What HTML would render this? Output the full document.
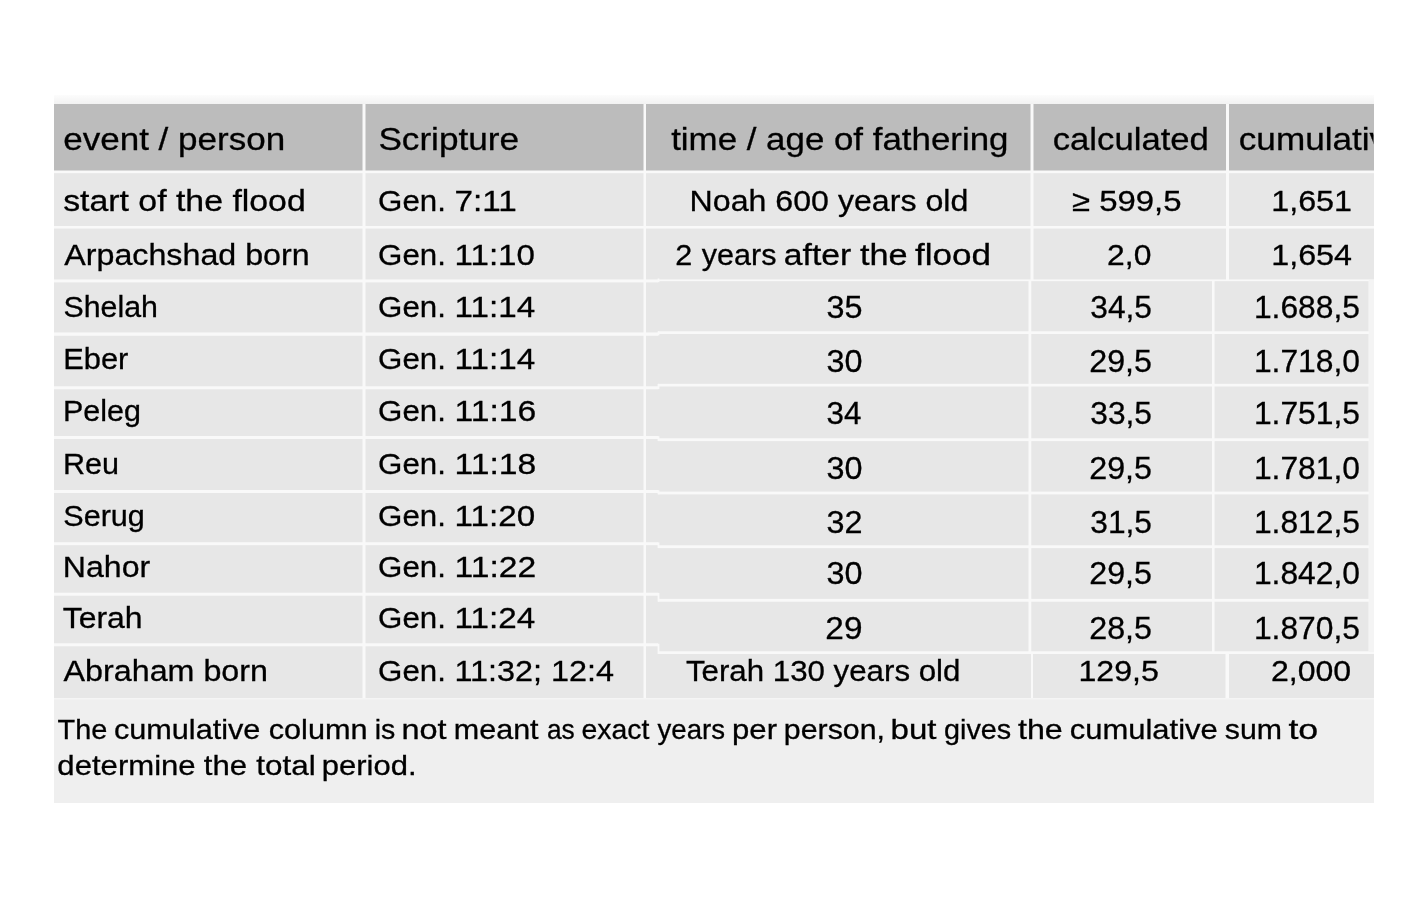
<!DOCTYPE html>
<html><head><meta charset="utf-8"><title>Table</title>
<style>
html,body{margin:0;padding:0;background:#fff;width:1428px;height:924px;overflow:hidden}
svg{display:block}
.main{filter:blur(0.4px)}
text{font-family:"Liberation Sans",sans-serif;font-size:29.5px;fill:#000000;stroke:#000000;stroke-width:0.3px}
</style></head><body>
<svg class="main" width="1428" height="924" viewBox="0 0 1428 924">
<rect x="0" y="0" width="1428" height="924" fill="#ffffff"/>
<defs><linearGradient id="sg" x1="0" y1="0" x2="0" y2="1"><stop offset="0" stop-color="#fcfcfc"/><stop offset="1" stop-color="#f2f2f2"/></linearGradient></defs>
<rect x="54.0" y="95.0" width="1320.0" height="9.0" fill="url(#sg)"/>
<rect x="54.0" y="104.0" width="1320.0" height="594.0" fill="#f9f9f9"/>
<rect x="54.0" y="104.0" width="308.5" height="66.5" fill="#bcbcbc"/>
<rect x="365.5" y="104.0" width="278.0" height="66.5" fill="#bcbcbc"/>
<rect x="646.0" y="104.0" width="384.5" height="66.5" fill="#bcbcbc"/>
<rect x="1033.5" y="104.0" width="192.5" height="66.5" fill="#bcbcbc"/>
<rect x="1229.0" y="104.0" width="145.0" height="66.5" fill="#bcbcbc"/>
<rect x="54.0" y="173.2" width="308.5" height="52.8" fill="#e7e7e7"/>
<rect x="365.5" y="173.2" width="278.0" height="52.8" fill="#e7e7e7"/>
<rect x="646.0" y="173.2" width="384.5" height="52.8" fill="#e7e7e7"/>
<rect x="1033.5" y="173.2" width="192.5" height="52.8" fill="#e7e7e7"/>
<rect x="1229.0" y="173.2" width="145.0" height="52.8" fill="#e7e7e7"/>
<rect x="54.0" y="228.6" width="308.5" height="50.8" fill="#e7e7e7"/>
<rect x="365.5" y="228.6" width="278.0" height="50.8" fill="#e7e7e7"/>
<rect x="646.0" y="228.6" width="384.5" height="50.8" fill="#e7e7e7"/>
<rect x="1033.5" y="228.6" width="192.5" height="50.8" fill="#e7e7e7"/>
<rect x="1229.0" y="228.6" width="145.0" height="50.8" fill="#e7e7e7"/>
<rect x="54.0" y="282.4" width="308.5" height="50.0" fill="#e7e7e7"/>
<rect x="365.5" y="282.4" width="278.0" height="50.0" fill="#e7e7e7"/>
<rect x="646.0" y="282.4" width="12.0" height="50.0" fill="#e7e7e7"/>
<rect x="54.0" y="335.8" width="308.5" height="50.5" fill="#e7e7e7"/>
<rect x="365.5" y="335.8" width="278.0" height="50.5" fill="#e7e7e7"/>
<rect x="646.0" y="335.8" width="12.0" height="50.5" fill="#e7e7e7"/>
<rect x="54.0" y="389.3" width="308.5" height="46.7" fill="#e7e7e7"/>
<rect x="365.5" y="389.3" width="278.0" height="46.7" fill="#e7e7e7"/>
<rect x="646.0" y="389.3" width="12.0" height="46.7" fill="#e7e7e7"/>
<rect x="54.0" y="439.0" width="308.5" height="51.0" fill="#e7e7e7"/>
<rect x="365.5" y="439.0" width="278.0" height="51.0" fill="#e7e7e7"/>
<rect x="646.0" y="439.0" width="12.0" height="51.0" fill="#e7e7e7"/>
<rect x="54.0" y="493.0" width="308.5" height="49.2" fill="#e7e7e7"/>
<rect x="365.5" y="493.0" width="278.0" height="49.2" fill="#e7e7e7"/>
<rect x="646.0" y="493.0" width="12.0" height="49.2" fill="#e7e7e7"/>
<rect x="54.0" y="545.2" width="308.5" height="47.5" fill="#e7e7e7"/>
<rect x="365.5" y="545.2" width="278.0" height="47.5" fill="#e7e7e7"/>
<rect x="646.0" y="545.2" width="12.0" height="47.5" fill="#e7e7e7"/>
<rect x="54.0" y="595.7" width="308.5" height="47.6" fill="#e7e7e7"/>
<rect x="365.5" y="595.7" width="278.0" height="47.6" fill="#e7e7e7"/>
<rect x="646.0" y="595.7" width="12.0" height="47.6" fill="#e7e7e7"/>
<rect x="54.0" y="646.3" width="308.5" height="51.7" fill="#e7e7e7"/>
<rect x="365.5" y="646.3" width="278.0" height="51.7" fill="#e7e7e7"/>
<rect x="646.0" y="646.3" width="12.0" height="51.7" fill="#e7e7e7"/>
<rect x="658.0" y="281.2" width="370.5" height="50.1" fill="#e7e7e7"/>
<rect x="1031.3" y="281.2" width="180.7" height="50.1" fill="#e7e7e7"/>
<rect x="1214.6" y="281.2" width="154.1" height="50.1" fill="#e7e7e7"/>
<rect x="658.0" y="334.0" width="370.5" height="49.8" fill="#e7e7e7"/>
<rect x="1031.3" y="334.0" width="180.7" height="49.8" fill="#e7e7e7"/>
<rect x="1214.6" y="334.0" width="154.1" height="49.8" fill="#e7e7e7"/>
<rect x="658.0" y="386.5" width="370.5" height="51.8" fill="#e7e7e7"/>
<rect x="1031.3" y="386.5" width="180.7" height="51.8" fill="#e7e7e7"/>
<rect x="1214.6" y="386.5" width="154.1" height="51.8" fill="#e7e7e7"/>
<rect x="658.0" y="441.1" width="370.5" height="50.5" fill="#e7e7e7"/>
<rect x="1031.3" y="441.1" width="180.7" height="50.5" fill="#e7e7e7"/>
<rect x="1214.6" y="441.1" width="154.1" height="50.5" fill="#e7e7e7"/>
<rect x="658.0" y="494.4" width="370.5" height="50.9" fill="#e7e7e7"/>
<rect x="1031.3" y="494.4" width="180.7" height="50.9" fill="#e7e7e7"/>
<rect x="1214.6" y="494.4" width="154.1" height="50.9" fill="#e7e7e7"/>
<rect x="658.0" y="548.1" width="370.5" height="50.8" fill="#e7e7e7"/>
<rect x="1031.3" y="548.1" width="180.7" height="50.8" fill="#e7e7e7"/>
<rect x="1214.6" y="548.1" width="154.1" height="50.8" fill="#e7e7e7"/>
<rect x="658.0" y="601.7" width="370.5" height="49.6" fill="#e7e7e7"/>
<rect x="1031.3" y="601.7" width="180.7" height="49.6" fill="#e7e7e7"/>
<rect x="1214.6" y="601.7" width="154.1" height="49.6" fill="#e7e7e7"/>
<rect x="658.0" y="654.0" width="373.0" height="44.0" fill="#e7e7e7"/>
<rect x="1033.0" y="654.0" width="192.5" height="44.0" fill="#e7e7e7"/>
<rect x="1229.0" y="654.0" width="145.0" height="44.0" fill="#e7e7e7"/>
<rect x="1368.7" y="280.0" width="5.3" height="372.0" fill="#f4f4f4"/>
<rect x="54.0" y="698.0" width="1320.0" height="105.0" fill="#efefef"/>
<rect x="54.0" y="698.0" width="1320.0" height="1.5" fill="#f5f5f5"/>
<rect x="657.6" y="278.5" width="1.8" height="3.7" fill="#f9f9f9"/>
<rect x="657.6" y="331.4" width="1.8" height="4.0" fill="#f9f9f9"/>
<rect x="657.6" y="383.9" width="1.8" height="5.2" fill="#f9f9f9"/>
<rect x="657.6" y="436.2" width="1.8" height="4.8" fill="#f9f9f9"/>
<rect x="657.6" y="490.2" width="1.8" height="4.1" fill="#f9f9f9"/>
<rect x="657.6" y="542.4" width="1.8" height="5.6" fill="#f9f9f9"/>
<rect x="657.6" y="592.9" width="1.8" height="8.7" fill="#f9f9f9"/>
<rect x="657.6" y="643.7" width="1.8" height="10.3" fill="#f9f9f9"/>
<text x="63.21" y="149.90" style="font-size:32px" textLength="221.96" lengthAdjust="spacingAndGlyphs">event / person</text>
<text x="378.40" y="149.90" style="font-size:32px" textLength="140.65" lengthAdjust="spacingAndGlyphs">Scripture</text>
<text x="671.20" y="149.90" style="font-size:32px" textLength="337.25" lengthAdjust="spacingAndGlyphs">time / age of fathering</text>
<text x="1052.72" y="149.90" style="font-size:32px" textLength="156.15" lengthAdjust="spacingAndGlyphs">calculated</text>
<svg x="0" y="0" width="1373.5" height="924" overflow="hidden"><text x="1238.80" y="149.90" style="font-size:32px" transform="translate(1238.80 0) scale(1.0983 1) translate(-1238.80 0)">cumulative</text></svg>
<text x="63.15" y="210.50" style="font-size:29.5px" textLength="242.62" lengthAdjust="spacingAndGlyphs">start of the flood</text>
<text x="378.14" y="210.50" style="font-size:29.5px" textLength="67.81" lengthAdjust="spacingAndGlyphs">Gen.</text>
<text x="454.57" y="210.50" style="font-size:29.5px" textLength="62.32" lengthAdjust="spacingAndGlyphs">7:11</text>
<text x="689.62" y="210.50" style="font-size:29.5px" textLength="278.69" lengthAdjust="spacingAndGlyphs">Noah 600 years old</text>
<text x="1072.09" y="210.50" style="font-size:29.5px" textLength="109.47" lengthAdjust="spacingAndGlyphs">≥ 599,5</text>
<text x="1271.31" y="210.50" style="font-size:29.5px" textLength="80.69" lengthAdjust="spacingAndGlyphs">1,651</text>
<text x="64.30" y="264.50" style="font-size:29.5px" textLength="245.34" lengthAdjust="spacingAndGlyphs">Arpachshad born</text>
<text x="378.14" y="264.50" style="font-size:29.5px" textLength="67.81" lengthAdjust="spacingAndGlyphs">Gen.</text>
<text x="454.56" y="264.50" style="font-size:29.5px" textLength="80.36" lengthAdjust="spacingAndGlyphs">11:10</text>
<text x="675.16" y="264.50" style="font-size:29.5px" textLength="17.01" lengthAdjust="spacingAndGlyphs">2</text>
<text x="701.80" y="264.50" style="font-size:29.5px" textLength="74.68" lengthAdjust="spacingAndGlyphs">years</text>
<text x="783.86" y="264.50" style="font-size:29.5px" textLength="67.48" lengthAdjust="spacingAndGlyphs">after</text>
<text x="859.90" y="264.50" style="font-size:29.5px" textLength="47.68" lengthAdjust="spacingAndGlyphs">the</text>
<text x="915.00" y="264.50" style="font-size:29.5px" textLength="76.06" lengthAdjust="spacingAndGlyphs">flood</text>
<text x="1107.12" y="264.50" style="font-size:29.5px" textLength="44.28" lengthAdjust="spacingAndGlyphs">2,0</text>
<text x="1271.31" y="264.50" style="font-size:29.5px" textLength="80.69" lengthAdjust="spacingAndGlyphs">1,654</text>
<text x="63.47" y="316.70" style="font-size:29.5px" textLength="94.44" lengthAdjust="spacingAndGlyphs">Shelah</text>
<text x="378.14" y="316.70" style="font-size:29.5px" textLength="67.81" lengthAdjust="spacingAndGlyphs">Gen.</text>
<text x="454.55" y="316.70" style="font-size:29.5px" textLength="80.57" lengthAdjust="spacingAndGlyphs">11:14</text>
<text x="63.21" y="369.10" style="font-size:29.5px" textLength="65.13" lengthAdjust="spacingAndGlyphs">Eber</text>
<text x="378.14" y="369.10" style="font-size:29.5px" textLength="67.81" lengthAdjust="spacingAndGlyphs">Gen.</text>
<text x="454.55" y="369.10" style="font-size:29.5px" textLength="80.57" lengthAdjust="spacingAndGlyphs">11:14</text>
<text x="62.93" y="420.50" style="font-size:29.5px" textLength="77.97" lengthAdjust="spacingAndGlyphs">Peleg</text>
<text x="378.14" y="420.50" style="font-size:29.5px" textLength="67.81" lengthAdjust="spacingAndGlyphs">Gen.</text>
<text x="454.52" y="420.50" style="font-size:29.5px" textLength="81.75" lengthAdjust="spacingAndGlyphs">11:16</text>
<text x="62.93" y="473.50" style="font-size:29.5px" textLength="56.07" lengthAdjust="spacingAndGlyphs">Reu</text>
<text x="378.14" y="473.50" style="font-size:29.5px" textLength="67.81" lengthAdjust="spacingAndGlyphs">Gen.</text>
<text x="454.52" y="473.50" style="font-size:29.5px" textLength="81.75" lengthAdjust="spacingAndGlyphs">11:18</text>
<text x="63.26" y="525.50" style="font-size:29.5px" textLength="81.64" lengthAdjust="spacingAndGlyphs">Serug</text>
<text x="378.14" y="525.50" style="font-size:29.5px" textLength="67.81" lengthAdjust="spacingAndGlyphs">Gen.</text>
<text x="454.55" y="525.50" style="font-size:29.5px" textLength="80.57" lengthAdjust="spacingAndGlyphs">11:20</text>
<text x="62.83" y="576.60" style="font-size:29.5px" textLength="87.37" lengthAdjust="spacingAndGlyphs">Nahor</text>
<text x="378.14" y="576.60" style="font-size:29.5px" textLength="67.81" lengthAdjust="spacingAndGlyphs">Gen.</text>
<text x="454.52" y="576.60" style="font-size:29.5px" textLength="81.75" lengthAdjust="spacingAndGlyphs">11:22</text>
<text x="62.72" y="627.70" style="font-size:29.5px" textLength="79.83" lengthAdjust="spacingAndGlyphs">Terah</text>
<text x="378.14" y="627.70" style="font-size:29.5px" textLength="67.81" lengthAdjust="spacingAndGlyphs">Gen.</text>
<text x="454.55" y="627.70" style="font-size:29.5px" textLength="80.57" lengthAdjust="spacingAndGlyphs">11:24</text>
<text x="826.46" y="318.40" style="font-size:31px" textLength="35.99" lengthAdjust="spacingAndGlyphs">35</text>
<text x="1090.28" y="318.40" style="font-size:31px" textLength="61.70" lengthAdjust="spacingAndGlyphs">34,5</text>
<text x="1253.95" y="318.40" style="font-size:31px" textLength="106.02" lengthAdjust="spacingAndGlyphs">1.688,5</text>
<text x="826.46" y="372.40" style="font-size:31px" textLength="35.99" lengthAdjust="spacingAndGlyphs">30</text>
<text x="1089.22" y="372.40" style="font-size:31px" textLength="62.78" lengthAdjust="spacingAndGlyphs">29,5</text>
<text x="1253.95" y="372.40" style="font-size:31px" textLength="106.02" lengthAdjust="spacingAndGlyphs">1.718,0</text>
<text x="826.49" y="424.30" style="font-size:31px" textLength="34.90" lengthAdjust="spacingAndGlyphs">34</text>
<text x="1090.28" y="424.30" style="font-size:31px" textLength="61.70" lengthAdjust="spacingAndGlyphs">33,5</text>
<text x="1253.95" y="424.30" style="font-size:31px" textLength="106.02" lengthAdjust="spacingAndGlyphs">1.751,5</text>
<text x="826.46" y="478.60" style="font-size:31px" textLength="35.99" lengthAdjust="spacingAndGlyphs">30</text>
<text x="1089.22" y="478.60" style="font-size:31px" textLength="62.78" lengthAdjust="spacingAndGlyphs">29,5</text>
<text x="1253.95" y="478.60" style="font-size:31px" textLength="106.02" lengthAdjust="spacingAndGlyphs">1.781,0</text>
<text x="826.46" y="532.50" style="font-size:31px" textLength="35.99" lengthAdjust="spacingAndGlyphs">32</text>
<text x="1090.28" y="532.50" style="font-size:31px" textLength="61.70" lengthAdjust="spacingAndGlyphs">31,5</text>
<text x="1253.95" y="532.50" style="font-size:31px" textLength="106.02" lengthAdjust="spacingAndGlyphs">1.812,5</text>
<text x="826.46" y="584.20" style="font-size:31px" textLength="35.99" lengthAdjust="spacingAndGlyphs">30</text>
<text x="1089.22" y="584.20" style="font-size:31px" textLength="62.78" lengthAdjust="spacingAndGlyphs">29,5</text>
<text x="1253.95" y="584.20" style="font-size:31px" textLength="106.02" lengthAdjust="spacingAndGlyphs">1.842,0</text>
<text x="825.35" y="638.60" style="font-size:31px" textLength="37.15" lengthAdjust="spacingAndGlyphs">29</text>
<text x="1089.22" y="638.60" style="font-size:31px" textLength="62.78" lengthAdjust="spacingAndGlyphs">28,5</text>
<text x="1253.95" y="638.60" style="font-size:31px" textLength="106.02" lengthAdjust="spacingAndGlyphs">1.870,5</text>
<text x="63.60" y="681.10" style="font-size:29.5px" textLength="204.33" lengthAdjust="spacingAndGlyphs">Abraham born</text>
<text x="378.14" y="681.10" style="font-size:29.5px" textLength="67.81" lengthAdjust="spacingAndGlyphs">Gen.</text>
<text x="454.40" y="681.10" style="font-size:29.5px" textLength="159.69" lengthAdjust="spacingAndGlyphs">11:32; 12:4</text>
<text x="685.94" y="681.10" style="font-size:29.5px" textLength="274.49" lengthAdjust="spacingAndGlyphs">Terah 130 years old</text>
<text x="1078.42" y="681.10" style="font-size:29.5px" textLength="80.38" lengthAdjust="spacingAndGlyphs">129,5</text>
<text x="1271.01" y="681.10" style="font-size:29.5px" textLength="80.19" lengthAdjust="spacingAndGlyphs">2,000</text>
<text x="57.47" y="739.30" style="font-size:28px" textLength="49.82" lengthAdjust="spacingAndGlyphs">The</text>
<text x="113.91" y="739.30" style="font-size:28px" textLength="146.52" lengthAdjust="spacingAndGlyphs">cumulative</text>
<text x="268.70" y="739.30" style="font-size:28px" textLength="98.88" lengthAdjust="spacingAndGlyphs">column</text>
<text x="374.66" y="739.30" style="font-size:28px" textLength="20.59" lengthAdjust="spacingAndGlyphs">is</text>
<text x="401.48" y="739.30" style="font-size:28px" textLength="45.15" lengthAdjust="spacingAndGlyphs">not</text>
<text x="453.82" y="739.30" style="font-size:28px" textLength="84.79" lengthAdjust="spacingAndGlyphs">meant</text>
<text x="546.96" y="739.30" style="font-size:28px" textLength="27.78" lengthAdjust="spacingAndGlyphs">as</text>
<text x="581.48" y="739.30" style="font-size:28px" textLength="67.95" lengthAdjust="spacingAndGlyphs">exact</text>
<text x="657.50" y="739.30" style="font-size:28px" textLength="67.46" lengthAdjust="spacingAndGlyphs">years</text>
<text x="732.08" y="739.30" style="font-size:28px" textLength="44.94" lengthAdjust="spacingAndGlyphs">per</text>
<text x="783.83" y="739.30" style="font-size:28px" textLength="101.17" lengthAdjust="spacingAndGlyphs">person,</text>
<text x="890.54" y="739.30" style="font-size:28px" textLength="45.99" lengthAdjust="spacingAndGlyphs">but</text>
<text x="943.97" y="739.30" style="font-size:28px" textLength="67.24" lengthAdjust="spacingAndGlyphs">gives</text>
<text x="1018.00" y="739.30" style="font-size:28px" textLength="44.78" lengthAdjust="spacingAndGlyphs">the</text>
<text x="1069.69" y="739.30" style="font-size:28px" textLength="148.04" lengthAdjust="spacingAndGlyphs">cumulative</text>
<text x="1224.82" y="739.30" style="font-size:28px" textLength="57.24" lengthAdjust="spacingAndGlyphs">sum</text>
<text x="1288.40" y="739.30" style="font-size:28px" textLength="29.84" lengthAdjust="spacingAndGlyphs">to</text>
<text x="57.39" y="775.20" style="font-size:28px" textLength="138.29" lengthAdjust="spacingAndGlyphs">determine</text>
<text x="203.80" y="775.20" style="font-size:28px" textLength="43.24" lengthAdjust="spacingAndGlyphs">the</text>
<text x="256.30" y="775.20" style="font-size:28px" textLength="59.37" lengthAdjust="spacingAndGlyphs">total</text>
<text x="321.79" y="775.20" style="font-size:28px" textLength="94.72" lengthAdjust="spacingAndGlyphs">period.</text>
</svg>
</body></html>
